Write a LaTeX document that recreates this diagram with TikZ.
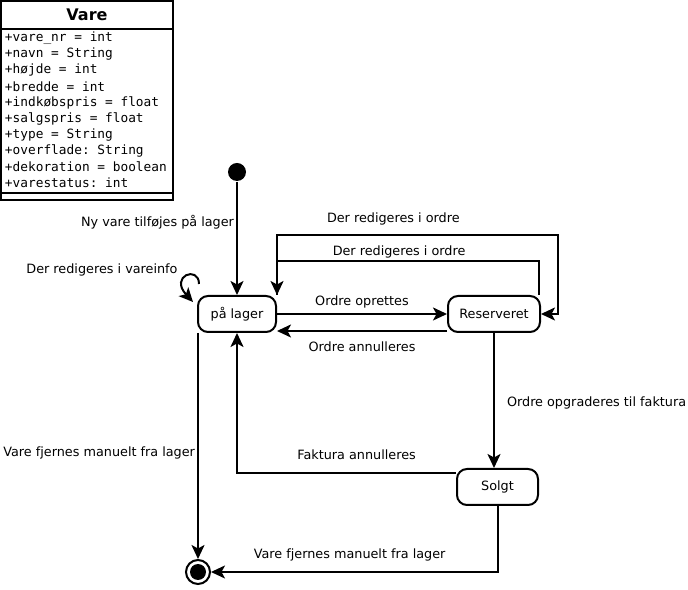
\documentclass[tikz,border=0pt]{standalone}
\usepackage{fontspec}
\setmainfont{DejaVu Sans}
\setmonofont{DejaVu Sans Mono}
\usetikzlibrary{arrows.meta,calc}

\tikzset{
  state/.style={draw,rounded corners=10pt,minimum height=36pt,inner sep=0pt},
  edgelabel/.style={inner sep=2pt},
}

\begin{document}
\begin{tikzpicture}[x=1pt,y=1pt,line width=2pt,
    >={Stealth[length=14pt,width=13pt,inset=3.5pt]},
    every node/.style={font=\fontsize{12.8}{16}\selectfont}]
    \useasboundingbox (0,0) rectangle (688,589);
    % class box
    \draw (1,588) rectangle (173,389);
    \draw (1,560) -- (173,560);
    \draw (1,396) -- (173,396);
    \node[font=\fontsize{16}{18}\selectfont\bfseries] (vare) at (87,574) {Vare};
    \foreach \attr [count=\i] in {{+vare\_nr = int},{+navn = String},{+højde = int},
        {+bredde = int},{+indkøbspris = float},{+salgspris = float},{+type = String},
        {+overflade: String},{+dekoration = boolean},{+varestatus: int}}
      \node[anchor=west,inner sep=0pt,font=\fontsize{12.8}{16}\selectfont\ttfamily]
        (attr\i) at (4,567-16.1*\i) {\attr};

    % states
    \node[circle,fill,minimum size=18pt,inner sep=0pt] (init) at (237,417) {};
    \node[state,minimum width=78pt] (lager) at (237,275) {på lager};
    \node[state,minimum width=92pt] (res) at (494,275) {Reserveret};
    \node[state,minimum width=81pt] (solgt) at (497.5,102) {Solgt};
    \node[circle,draw,minimum size=24pt,inner sep=0pt] (final) at (198,17) {};
    \fill (final.center) circle[radius=8];
    \coordinate (outerc) at (558,354);

    % transitions
    \draw[->] (init) -- node[edgelabel,left,pos=0.36] {Ny vare tilføjes på lager} (lager);
    \draw[->] ([shift={(2,11)}]lager.north west) .. controls +(0,19) and +(-24,26) .. ([shift={(-4,-7)}]lager.north west);
    \node (vareinfo) at (102,319) {Der redigeres i vareinfo};
    \draw[->] (lager.east) -- node[edgelabel,above=3pt] {Ordre oprettes} (res.west);
    \draw[->] ([yshift=-17pt]res.west) -- node[edgelabel,below=8pt] {Ordre annulleres} ([yshift=-17pt]lager.east);
    \draw[->] ([xshift=-2pt]res.north east) -- ++(0,34)
      -| node[edgelabel,above,pos=0.267] {Der redigeres i ordre} (lager.north east);
    \draw[->] (lager.north east) |- node[edgelabel,above=7pt,pos=0.707] {Der redigeres i ordre} (outerc)
      |- (res.east);
    \draw[->] (res.south) -- node[edgelabel,right=10pt,pos=0.52] {Ordre opgraderes til faktura} (res.south |- solgt.north);
    \draw[->] ([yshift=14pt]solgt.west) -| node[edgelabel,above=10pt,pos=0.227] {Faktura annulleres} (lager.south);
    \draw[->] ([xshift=1pt]lager.south west) -- node[edgelabel,left,pos=0.53] {Vare fjernes manuelt fra lager} (final.north);
    \draw[->] (solgt.south) |- node[edgelabel,above=8pt,pos=0.758] {Vare fjernes manuelt fra lager} (final.east);
\end{tikzpicture}
\end{document}
